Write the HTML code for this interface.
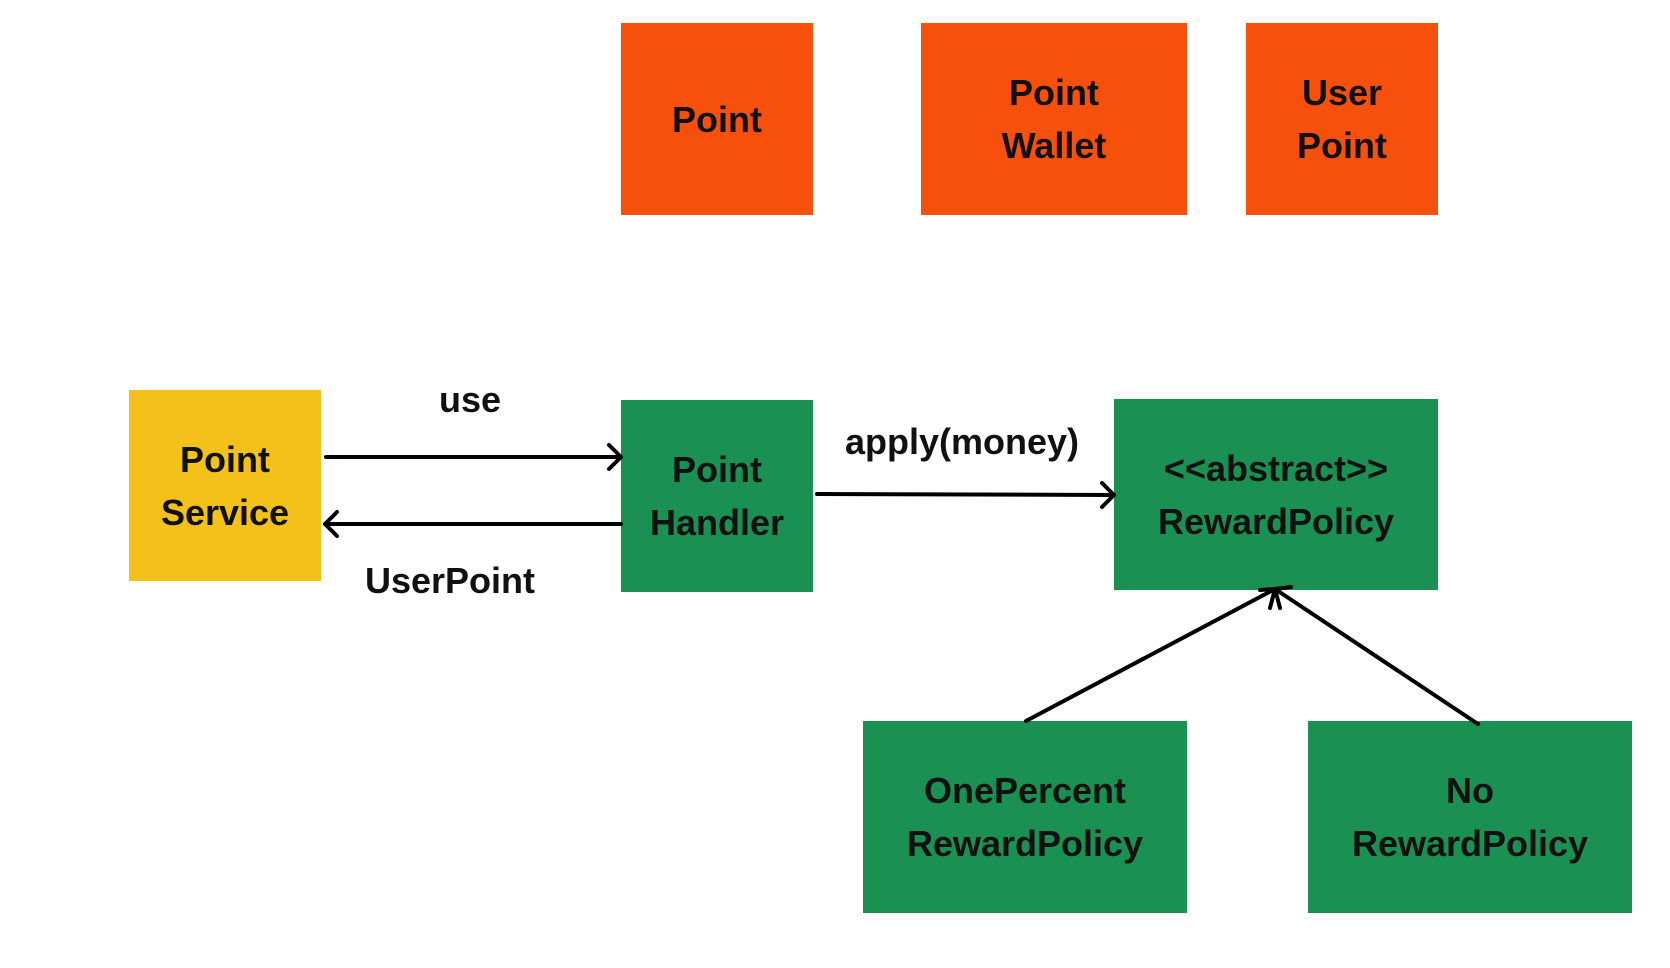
<!DOCTYPE html>
<html><head><meta charset="utf-8"><style>
body{margin:0;width:1670px;height:968px;background:#fff;position:relative;overflow:hidden;font-family:"Liberation Sans",sans-serif;font-weight:bold;}
.b{position:absolute;display:flex;align-items:center;justify-content:center;text-align:center;font-size:36px;line-height:53px;color:#111;}
.o{background:#F7500D}.g{background:#1A9152}.y{background:#F4C11B}
.l{position:absolute;font-size:36px;color:#111;transform:translate(-50%,-50%);white-space:nowrap}
svg{position:absolute;left:0;top:0}
</style></head><body>
<div class="b o" style="left:621px;top:23px;width:192px;height:192px">Point</div>
<div class="b o" style="left:921px;top:23px;width:266px;height:192px">Point<br>Wallet</div>
<div class="b o" style="left:1246px;top:23px;width:192px;height:192px">User<br>Point</div>
<div class="b y" style="left:129px;top:390px;width:192px;height:191px">Point<br>Service</div>
<div class="b g" style="left:621px;top:400px;width:192px;height:192px">Point<br>Handler</div>
<div class="b g" style="left:1114px;top:399px;width:324px;height:191px">&lt;&lt;abstract&gt;&gt;<br>RewardPolicy</div>
<div class="b g" style="left:863px;top:721px;width:324px;height:192px">OnePercent<br>RewardPolicy</div>
<div class="b g" style="left:1308px;top:721px;width:324px;height:192px">No<br>RewardPolicy</div>
<div class="l" style="left:470px;top:400px">use</div>
<div class="l" style="left:962px;top:442px">apply(money)</div>
<div class="l" style="left:450px;top:581px">UserPoint</div>
<svg width="1670" height="968" fill="none" stroke="#000" stroke-width="4" stroke-linecap="round" stroke-linejoin="round">
<path d="M326 457H621M609 445L621 457L609 469"/>
<path d="M621 524H325M337 512L325 524L337 536"/>
<path d="M817 494L1114 495M1102 483L1114 495L1102 507"/>
<path d="M1026 721L1275 589M1478 724L1275 589M1260 590L1275 589L1291 587M1275 589L1270 608M1275 589L1280 608"/>
</svg>
</body></html>
